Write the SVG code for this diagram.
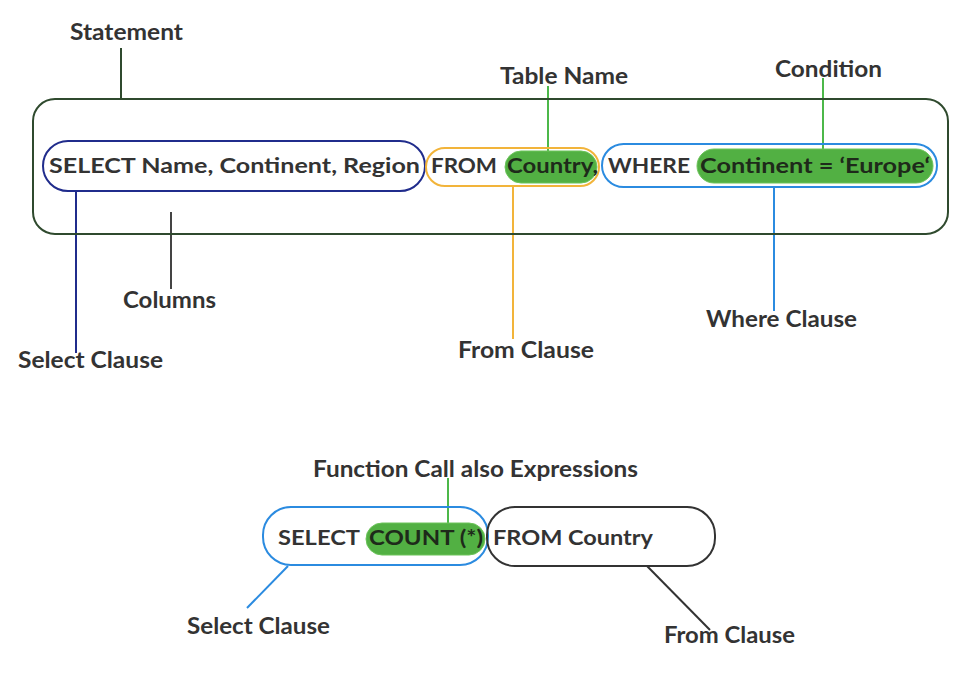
<svg xmlns="http://www.w3.org/2000/svg" width="970" height="687" viewBox="0 0 970 687">
<style>
  text { font-family: Lato, "Open Sans", "Liberation Sans", sans-serif; font-weight: 700; fill: #333333; }
  .lbl { font-size: 22px; }
  .code { font-size: 20px; }
  .code2 { font-size: 21px; }
  .hl { fill: #52b043; stroke: #6cc45a; stroke-width: 1; }
  .hltext { fill: #1e2a1a; }
  .box { fill: none; stroke-width: 2; }
  .ln { fill: none; stroke-width: 2; }
</style>
<rect width="970" height="687" fill="#ffffff"/>

<g id="connectors">
  <line class="ln" x1="121" y1="48" x2="121" y2="99" stroke="#2f4a2e"/>
  <line class="ln" x1="548" y1="86" x2="548" y2="151" stroke="#4cb84a"/>
  <line class="ln" x1="823" y1="78" x2="823" y2="149" stroke="#4cb84a"/>
  <line class="ln" x1="171" y1="212" x2="171" y2="289" stroke="#444444"/>
  <line class="ln" x1="76" y1="191" x2="76" y2="353" stroke="#202c8c"/>
  <line class="ln" x1="513" y1="186" x2="513" y2="339" stroke="#f2b43a"/>
  <line class="ln" x1="774" y1="187" x2="774" y2="311" stroke="#2b8be0"/>
  <line class="ln" x1="448" y1="478" x2="448" y2="523" stroke="#4cb84a"/>
  <line class="ln" x1="288" y1="566" x2="247" y2="608" stroke="#2b8be0"/>
  <line class="ln" x1="647" y1="566" x2="710" y2="630" stroke="#333333"/>
</g>

<g id="statement">
  <rect class="box" x="33" y="99" width="915" height="135" rx="22" stroke="#2f4a2e"/>
  <text class="lbl" x="70" y="40" textLength="113" lengthAdjust="spacingAndGlyphs">Statement</text>
</g>

<g id="select-clause">
  <rect class="box" x="43" y="141" width="382" height="50" rx="25" stroke="#202c8c"/>
  <text class="code" x="49" y="173" textLength="371" lengthAdjust="spacingAndGlyphs">SELECT Name, Continent, Region</text>
</g>

<g id="from-clause">
  <rect class="box" x="426" y="148" width="173" height="38" rx="19" stroke="#f2b43a"/>
  <rect class="hl" x="505" y="151" width="92" height="32" rx="16"/>
  <text class="code" x="431" y="173" textLength="66" lengthAdjust="spacingAndGlyphs">FROM</text>
  <text class="code hltext" x="507" y="173" textLength="91" lengthAdjust="spacingAndGlyphs">Country,</text>
</g>

<g id="where-clause">
  <rect class="box" x="602" y="144" width="335" height="43" rx="21.5" stroke="#2b8be0"/>
  <rect class="hl" x="697" y="149" width="236" height="34" rx="17"/>
  <text class="code" x="608" y="173" textLength="82" lengthAdjust="spacingAndGlyphs">WHERE</text>
  <text class="code hltext" x="700" y="173" textLength="230" lengthAdjust="spacingAndGlyphs">Continent = ‘Europe‘</text>
</g>

<g id="table-name">
  <text class="lbl" x="500" y="84" textLength="128" lengthAdjust="spacingAndGlyphs">Table Name</text>
</g>
<g id="condition">
  <text class="lbl" x="775" y="77" textLength="107" lengthAdjust="spacingAndGlyphs">Condition</text>
</g>
<g id="columns">
  <text class="lbl" x="123" y="308" textLength="93" lengthAdjust="spacingAndGlyphs">Columns</text>
</g>
<g id="select-clause-label">
  <text class="lbl" x="18" y="368" textLength="145" lengthAdjust="spacingAndGlyphs">Select Clause</text>
</g>
<g id="from-clause-label">
  <text class="lbl" x="458" y="358" textLength="136" lengthAdjust="spacingAndGlyphs">From Clause</text>
</g>
<g id="where-clause-label">
  <text class="lbl" x="706" y="327" textLength="151" lengthAdjust="spacingAndGlyphs">Where Clause</text>
</g>

<g id="function-call-label">
  <text class="lbl" x="313" y="477" textLength="325" lengthAdjust="spacingAndGlyphs">Function Call also Expressions</text>
</g>

<g id="select-count">
  <rect class="box" x="263" y="507" width="225" height="58" rx="28" stroke="#2b8be0"/>
  <rect class="hl" x="366" y="523" width="119" height="32" rx="16"/>
  <text class="code2" x="278" y="545" textLength="82" lengthAdjust="spacingAndGlyphs">SELECT</text>
  <text class="code2 hltext" x="369" y="545" textLength="114" lengthAdjust="spacingAndGlyphs">COUNT (*)</text>
</g>

<g id="from-country">
  <rect class="box" x="487" y="507" width="228" height="59" rx="28" stroke="#333333"/>
  <text class="code2" x="493" y="545" textLength="160" lengthAdjust="spacingAndGlyphs">FROM Country</text>
</g>

<g id="select-clause-label-2">
  <text class="lbl" x="187" y="634" textLength="143" lengthAdjust="spacingAndGlyphs">Select Clause</text>
</g>
<g id="from-clause-label-2">
  <text class="lbl" x="664" y="643" textLength="131" lengthAdjust="spacingAndGlyphs">From Clause</text>
</g>
</svg>
